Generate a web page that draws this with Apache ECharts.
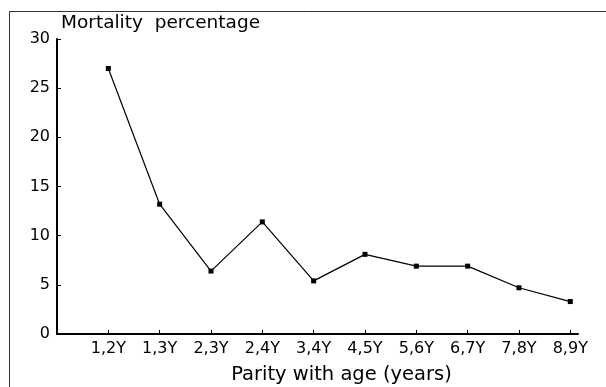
<!DOCTYPE html>
<html>
<head>
<meta charset="utf-8">
<script src="https://cdn.jsdelivr.net/npm/echarts@6/dist/echarts.min.js"></script>
<style>
  html, body { margin: 0; padding: 0; background: #fff; }
  #main { width: 606px; height: 387px; }
</style>
</head>
<body>
<div id="main"></div>
<script>
var categories = ['1,2Y', '1,3Y', '2,3Y', '2,4Y', '3,4Y', '4,5Y', '5,6Y', '6,7Y', '7,8Y', '8,9Y'];
var mortality = [27.0, 13.2, 6.4, 11.4, 5.4, 8.1, 6.9, 6.9, 4.7, 3.3];

var points = mortality.map(function (v, i) { return [i + 1, v]; });

var chart = echarts.init(document.getElementById('main'));
var font = 'DejaVu Sans, Verdana, sans-serif';

chart.setOption({
    animation: false,
    backgroundColor: '#fff',
    grid: { left: 57, right: 28, top: 39, bottom: 53, outerBoundsMode: 'none' },
    // frame lines: only top and left edges are visible in the reference
    graphic: [
        { type: 'line', shape: { x1: 9.5, y1: 11.5, x2: 606, y2: 11.5 }, style: { stroke: '#333', lineWidth: 1 } },
        { type: 'line', shape: { x1: 9.5, y1: 11.5, x2: 9.5, y2: 387 }, style: { stroke: '#333', lineWidth: 1 } }
    ],
    xAxis: {
        type: 'value',
        min: 0,
        max: 10.15,
        interval: 1,
        name: 'Parity with age (years)',
        nameLocation: 'middle',
        nameGap: 31,
        nameTextStyle: { color: '#000', fontFamily: font, fontSize: 19.5, padding: [0, 0, 0, 48] },
        splitLine: { show: false },
        axisLine: { lineStyle: { color: '#000', width: 2 } },
        axisTick: { inside: true, length: 4, lineStyle: { color: '#000' } },
        axisLabel: {
            color: '#000', fontFamily: font, fontSize: 16, margin: 7,
            showMaxLabel: false,
            formatter: function (v) {
                return (v >= 1 && v <= 10 && v === Math.round(v)) ? categories[v - 1] : '';
            }
        }
    },
    yAxis: {
        type: 'value',
        min: 0,
        max: 30,
        interval: 5,
        name: 'Mortality  percentage',
        nameLocation: 'end',
        nameGap: 6,
        nameTextStyle: { color: '#000', fontFamily: font, fontSize: 18.5, align: 'left', padding: [0, 0, 0, 4] },
        splitLine: { show: false },
        axisLine: { show: true, lineStyle: { color: '#000', width: 2 } },
        axisTick: { show: true, inside: true, length: 4, lineStyle: { color: '#000' } },
        axisLabel: { color: '#000', fontFamily: font, fontSize: 16, margin: 7 }
    },
    series: [{
        type: 'line',
        data: points,
        symbol: 'rect',
        symbolSize: 5,
        itemStyle: { color: '#000' },
        lineStyle: { color: '#000', width: 1.2 }
    }]
});
</script>
</body>
</html>
